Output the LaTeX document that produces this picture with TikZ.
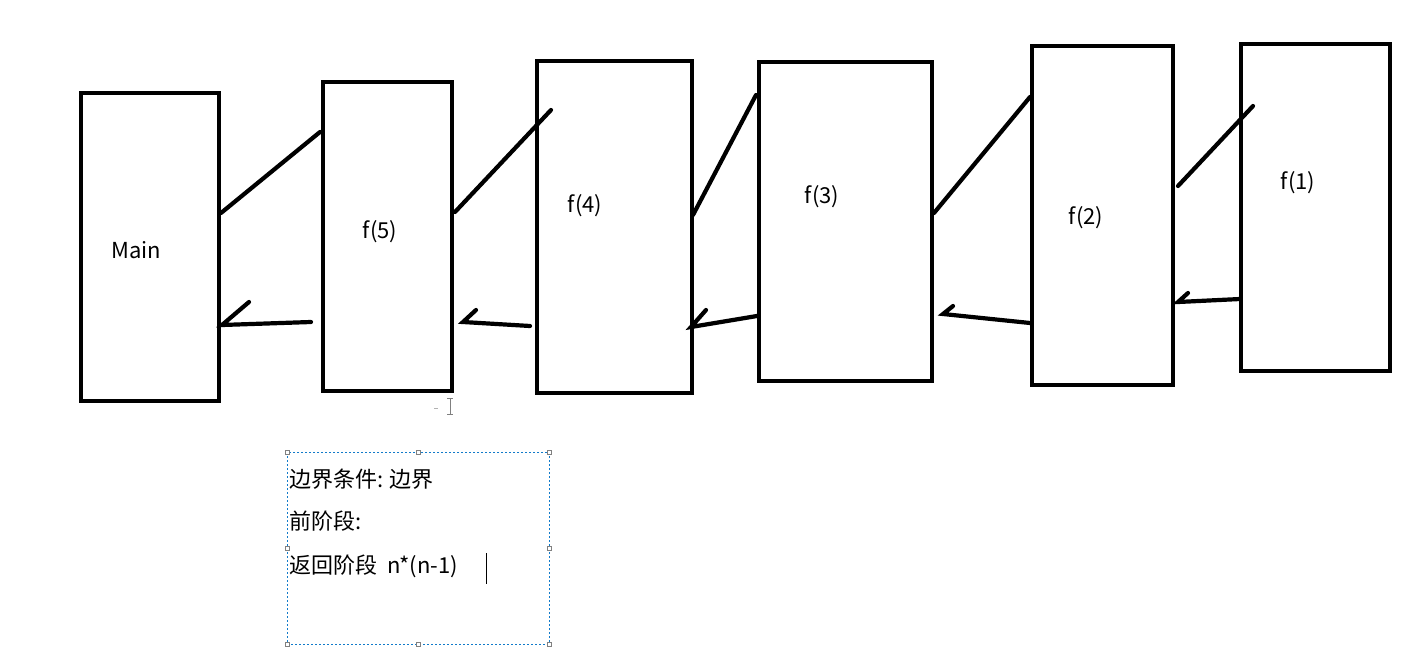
\documentclass[tikz,border=0pt]{standalone}
\usepackage{fontspec}
\setmainfont{Noto Sans CJK SC}
\begin{document}
\begin{tikzpicture}[x=1pt,y=-1pt,
  box/.style={draw=black,line width=4pt,rectangle,inner sep=0pt},
  lbl/.style={font=\fontsize{22}{26}\selectfont,inner sep=1pt},
  ln/.style={line width=4.2pt,line cap=round},
  handle/.style={draw=gray,fill=white,line width=0.6pt,minimum size=4pt,inner sep=0pt}]
\useasboundingbox (0,0) rectangle (1408,650);
\node[box,minimum width=138pt,minimum height=308pt] (main) at (150,247) {};
\node[box,minimum width=129pt,minimum height=309pt] (f5) at (387.5,236.5) {};
\node[box,minimum width=155pt,minimum height=332pt] (f4) at (614.5,227) {};
\node[box,minimum width=173pt,minimum height=319pt] (f3) at (845.5,221.5) {};
\node[box,minimum width=141pt,minimum height=339pt] (f2) at (1102.5,215.5) {};
\node[box,minimum width=149pt,minimum height=327pt] (f1) at (1315.5,207.5) {};
\node[lbl] (tm) at (136,250) {Main};
\node[lbl] (t5) at (380,232) {f(5)};
\node[lbl] (t4) at (585,206) {f(4)};
\node[lbl] (t3) at (822,197) {f(3)};
\node[lbl] (t2) at (1086,218) {f(2)};
\node[lbl] (t1) at (1298,183) {f(1)};
% calls
\draw[ln] (221,213) -- (320,132);
\draw[ln] (455,212) -- (551,110);
\draw[ln] (693,215) -- (756,95);
\draw[ln] (934,213) -- (1030,97);
\draw[ln] (1178,186) -- (1253,106);
% returns
\draw[ln] (311,322) -- (222,325) -- (249,302);
\draw[ln] (530,326) -- (463,322) -- (476,310);
\draw[ln] (757,316) -- (691,327) -- (706,310);
\draw[ln] (1030,323) -- (943,314) -- (953,306);
\draw[ln] (1240,299) -- (1178,302) -- (1188,293);
% text box
\node[draw=cyan!60!blue,dash pattern=on 2pt off 2pt,line width=0.6pt,minimum width=262pt,minimum height=192pt,inner sep=0pt] (tb) at (418,548) {};
\foreach \p in {(287,452),(418,452),(549,452),(287,548),(549,548),(287,644),(418,644),(549,644)}
  \node[handle] at \p {};
\node[lbl,anchor=west] (l1) at (288,479) {边界条件: 边界};
\node[lbl,anchor=west] (l2) at (288,521) {前阶段:};
\node[lbl,anchor=west] (l3) at (288,566) {返回阶段\ \ n*(n-1)};
\draw[line width=0.8pt] (486,553) -- (486,584);
\draw[gray,line width=0.8pt] (450,398) -- (450,414) (447,398) -- (453,398) (447,414) -- (453,414);
\draw[gray!60,line width=0.8pt] (434,408) -- (438,408);
\end{tikzpicture}
\end{document}
